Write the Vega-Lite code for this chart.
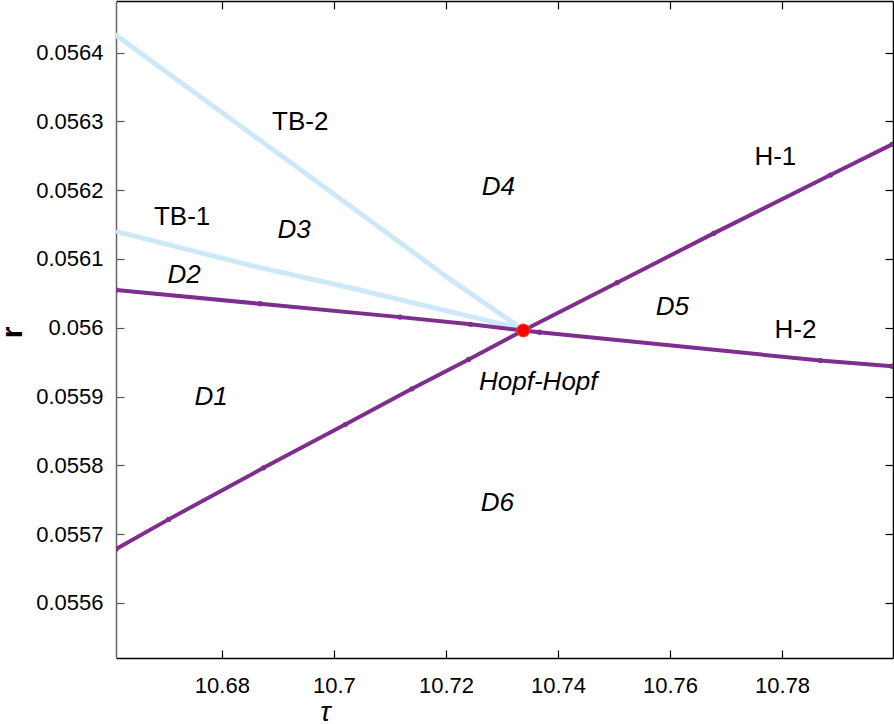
{
  "$schema": "https://vega.github.io/schema/vega-lite/v6.json",
  "width": 777,
  "height": 657,
  "autosize": {"type": "none"},
  "padding": {"left": 116, "top": 1, "right": 1, "bottom": 66},
  "background": "white",
  "config": {"view": {"stroke": null}, "font": "Liberation Sans"},
  "datasets": {
    "curves": [
      {"curve": "TB-2", "kind": "TB", "tau": 10.661125, "r": 0.0564252},
      {"curve": "TB-2", "kind": "TB", "tau": 10.702911, "r": 0.0561769},
      {"curve": "TB-2", "kind": "TB", "tau": 10.720768, "r": 0.0560703},
      {"curve": "TB-2", "kind": "TB", "tau": 10.732911, "r": 0.0560019},
      {"curve": "TB-1", "kind": "TB", "tau": 10.661482, "r": 0.0561393},
      {"curve": "TB-1", "kind": "TB", "tau": 10.685643, "r": 0.0560896},
      {"curve": "TB-1", "kind": "TB", "tau": 10.702911, "r": 0.0560582},
      {"curve": "TB-1", "kind": "TB", "tau": 10.733268, "r": 0.0559990},
      {"curve": "H-1", "kind": "H", "tau": 10.661125, "r": 0.0556785},
      {"curve": "H-1", "kind": "H", "tau": 10.670500, "r": 0.0557215},
      {"curve": "H-1", "kind": "H", "tau": 10.687429, "r": 0.0557964},
      {"curve": "H-1", "kind": "H", "tau": 10.702018, "r": 0.0558593},
      {"curve": "H-1", "kind": "H", "tau": 10.713929, "r": 0.0559113},
      {"curve": "H-1", "kind": "H", "tau": 10.724036, "r": 0.0559539},
      {"curve": "H-1", "kind": "H", "tau": 10.733804, "r": 0.0559961},
      {"curve": "H-1", "kind": "H", "tau": 10.750536, "r": 0.0560655},
      {"curve": "H-1", "kind": "H", "tau": 10.767786, "r": 0.0561372},
      {"curve": "H-1", "kind": "H", "tau": 10.788625, "r": 0.0562220},
      {"curve": "H-1", "kind": "H", "tau": 10.799643, "r": 0.0562666},
      {"curve": "H-2", "kind": "H", "tau": 10.661125, "r": 0.0560550},
      {"curve": "H-2", "kind": "H", "tau": 10.686839, "r": 0.0560349},
      {"curve": "H-2", "kind": "H", "tau": 10.711800, "r": 0.0560155},
      {"curve": "H-2", "kind": "H", "tau": 10.724400, "r": 0.0560050},
      {"curve": "H-2", "kind": "H", "tau": 10.733804, "r": 0.0559961},
      {"curve": "H-2", "kind": "H", "tau": 10.736700, "r": 0.0559935},
      {"curve": "H-2", "kind": "H", "tau": 10.786839, "r": 0.0559524},
      {"curve": "H-2", "kind": "H", "tau": 10.799643, "r": 0.0559441}
    ],
    "hh": [{"tau": 10.733804, "r": 0.0559961}],
    "labels": [
      {"text": "TB-2", "kind": "curve", "tau": 10.69398, "r": 0.0562986},
      {"text": "D4", "kind": "region", "tau": 10.72934, "r": 0.0562041},
      {"text": "H-1", "kind": "curve", "tau": 10.77880, "r": 0.0562477},
      {"text": "TB-1", "kind": "curve", "tau": 10.67291, "r": 0.0561604},
      {"text": "D3", "kind": "region", "tau": 10.69291, "r": 0.0561415},
      {"text": "D2", "kind": "region", "tau": 10.67327, "r": 0.0560761},
      {"text": "D5", "kind": "region", "tau": 10.76041, "r": 0.0560295},
      {"text": "H-2", "kind": "curve", "tau": 10.78238, "r": 0.0559975},
      {"text": "D1", "kind": "region", "tau": 10.67809, "r": 0.0559001},
      {"text": "Hopf-Hopf", "kind": "region", "tau": 10.73648, "r": 0.0559219},
      {"text": "D6", "kind": "region", "tau": 10.72916, "r": 0.0557459}
    ]
  },
  "resolve": {"axis": {"x": "independent", "y": "independent"}},
  "layer": [
    {
      "data": {"name": "curves"},
      "transform": [{"filter": "datum.kind === 'TB'"}],
      "mark": {"type": "line", "color": "#cde9f8", "strokeWidth": 5, "strokeCap": "round", "clip": true},
      "encoding": {
        "detail": {"field": "curve"},
        "x": {
          "field": "tau", "type": "quantitative",
          "scale": {"domain": [10.6611, 10.7998], "nice": false, "zero": false},
          "axis": {
            "orient": "bottom", "values": [10.68, 10.7, 10.72, 10.74, 10.76, 10.78], "format": "~g",
            "grid": false, "tickSize": -8, "tickColor": "#000", "tickWidth": 1.2,
            "domainColor": "#000", "domainWidth": 1.5,
            "labelFontSize": 22, "labelFont": "Liberation Sans", "labelColor": "#000", "labelPadding": 25,
            "title": "τ", "titleFont": "Liberation Sans", "titleFontStyle": "italic", "titleFontSize": 28,
            "titleFontWeight": "normal", "titleColor": "#000", "titleX": 209, "titleY": 62,
            "titleBaseline": "alphabetic", "titleAlign": "center", "titleAnchor": null
          }
        },
        "y": {
          "field": "r", "type": "quantitative",
          "scale": {"domain": [0.05552, 0.056475], "nice": false, "zero": false},
          "axis": {
            "orient": "left", "values": [0.0556, 0.0557, 0.0558, 0.0559, 0.056, 0.0561, 0.0562, 0.0563, 0.0564], "format": "~g",
            "grid": false, "tickSize": -8, "tickColor": "#555", "tickWidth": 1.2,
            "domainColor": "#666", "domainWidth": 1.5,
            "labelFontSize": 22, "labelFont": "Liberation Sans", "labelColor": "#000", "labelPadding": 21,
            "title": "r", "titleFont": "Liberation Sans", "titleFontSize": 30, "titleFontWeight": "bold",
            "titleColor": "#000", "titleAngle": 270, "titleX": -95, "titleY": 331,
            "titleBaseline": "alphabetic", "titleAlign": "center", "titleAnchor": null
          }
        }
      }
    },
    {
      "data": {"name": "curves"},
      "transform": [{"filter": "datum.kind === 'H'"}],
      "mark": {"type": "line", "color": "#7e2f8e", "strokeWidth": 4, "clip": true,
               "point": {"filled": true, "size": 28, "color": "#7e2f8e"}},
      "encoding": {
        "detail": {"field": "curve"},
        "x": {
          "field": "tau", "type": "quantitative",
          "scale": {"domain": [10.6611, 10.7998], "nice": false, "zero": false},
          "axis": {
            "orient": "top", "values": [10.68, 10.7, 10.72, 10.74, 10.76, 10.78],
            "grid": false, "labels": false, "tickSize": -8, "tickColor": "#000", "tickWidth": 1.2,
            "domainColor": "#000", "domainWidth": 1.5, "title": null
          }
        },
        "y": {
          "field": "r", "type": "quantitative",
          "scale": {"domain": [0.05552, 0.056475], "nice": false, "zero": false},
          "axis": {
            "orient": "right", "values": [0.0556, 0.0557, 0.0558, 0.0559, 0.056, 0.0561, 0.0562, 0.0563, 0.0564],
            "grid": false, "labels": false, "tickSize": -8, "tickColor": "#000", "tickWidth": 1.2,
            "domainColor": "#000", "domainWidth": 1.5, "title": null
          }
        }
      }
    },
    {
      "data": {"name": "hh"},
      "mark": {"type": "point", "filled": true, "size": 170, "color": "#ff0000", "stroke": "#e8541a", "strokeWidth": 1, "opacity": 1},
      "encoding": {
        "x": {"field": "tau", "type": "quantitative", "axis": null},
        "y": {"field": "r", "type": "quantitative", "axis": null}
      }
    },
    {
      "data": {"name": "labels"},
      "transform": [{"filter": "datum.kind === 'curve'"}],
      "mark": {"type": "text", "fontSize": 26, "font": "Liberation Sans", "color": "#000", "align": "center", "baseline": "middle"},
      "encoding": {
        "x": {"field": "tau", "type": "quantitative", "axis": null},
        "y": {"field": "r", "type": "quantitative", "axis": null},
        "text": {"field": "text"}
      }
    },
    {
      "data": {"name": "labels"},
      "transform": [{"filter": "datum.kind === 'region'"}],
      "mark": {"type": "text", "fontSize": 26, "font": "Liberation Sans", "fontStyle": "italic", "color": "#000", "align": "center", "baseline": "middle"},
      "encoding": {
        "x": {"field": "tau", "type": "quantitative", "axis": null},
        "y": {"field": "r", "type": "quantitative", "axis": null},
        "text": {"field": "text"}
      }
    }
  ]
}
